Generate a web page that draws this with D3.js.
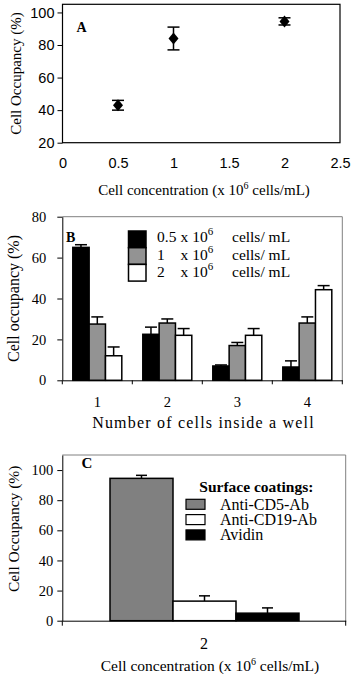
<!DOCTYPE html>
<html>
<head>
<meta charset="utf-8">
<script src="https://d3js.org/d3.v7.min.js"></script>
<style>
  body { margin: 0; background: #fff; }
  svg { display: block; }
</style>
</head>
<body>
<script>
// ---- data ----
// panel A
var aConc = [0.5, 1, 2];
var aOcc = [43, 84, 94.5];
var aErr = [3, 7, 2.2];
var aXTicks = [0, 0.5, 1, 1.5, 2, 2.5];
var aYTicks = [20, 40, 60, 80, 100];

// panel B
var bCats = ["1", "2", "3", "4"];
var bSeries = ["0.5", "1", "2"];
var bVals05 = [65, 22.5, 7, 6.5];
var bErr05 = [1.3, 3.5, 0.5, 3];
var bVals1 = [27.5, 28, 17, 28];
var bErr1 = [3.5, 2, 1.5, 3];
var bVals2 = [12, 22, 22, 44.3];
var bErr2 = [4.3, 3.3, 3.3, 2];
var bYTicks = [0, 20, 40, 60, 80];

// panel C
var cCat = ["2"];
var cSeries = ["Anti-CD5-Ab", "Anti-CD19-Ab", "Avidin"];
var cVals = [94.5, 13, 5];
var cErr = [2, 3.5, 3.5];
var cYTicks = [0, 20, 40, 60, 80, 100];

var serif = "Liberation Serif, serif";
var sans = "Liberation Sans, sans-serif";

var svg = d3.select("body").append("svg")
  .attr("width", 354)
  .attr("height", 674);

// ================= panel A =================
var xA = d3.scaleLinear().domain([0, 2.5]).range([62.5, 340]);
var yA = d3.scaleLinear().domain([20, 105]).range([142.7, 4.3]);

svg.append("rect")
  .attr("x", xA(0)).attr("y", yA(105))
  .attr("width", xA(2.5) - xA(0)).attr("height", yA(20) - yA(105))
  .attr("fill", "none").attr("stroke", "#000").attr("stroke-width", 1.2);

var gAy = svg.append("g")
  .attr("transform", "translate(" + xA(0) + ",0)")
  .call(d3.axisLeft(yA).tickValues(aYTicks).tickSize(5).tickPadding(3));
gAy.select(".domain").remove();

var gAx = svg.append("g")
  .attr("transform", "translate(0," + yA(20) + ")")
  .call(d3.axisBottom(xA).tickValues(aXTicks).tickSize(0).tickPadding(15)
    .tickFormat(function(d) { return d; }));
gAx.select(".domain").remove();

[gAy, gAx].forEach(function(g) {
  g.attr("font-family", null).attr("font-size", null);
  g.selectAll("text").attr("font-family", sans).attr("font-size", "14.5px").attr("fill", "#000");
  g.selectAll("line").attr("stroke", "#000");
});

// error bars + diamonds
var gA = svg.append("g");
aConc.forEach(function(c, i) {
  var cx = xA(c), cy = yA(aOcc[i]);
  var top = yA(aOcc[i] + aErr[i]), bot = yA(aOcc[i] - aErr[i]);
  gA.append("line").attr("x1", cx).attr("x2", cx).attr("y1", top).attr("y2", bot)
    .attr("stroke", "#000").attr("stroke-width", 1.5);
  [top, bot].forEach(function(yy) {
    gA.append("line").attr("x1", cx - 6).attr("x2", cx + 6).attr("y1", yy).attr("y2", yy)
      .attr("stroke", "#000").attr("stroke-width", 1.5);
  });
  gA.append("path")
    .attr("d", "M" + cx + "," + (cy - 6) + "L" + (cx + 5) + "," + cy + "L" + cx + "," + (cy + 6) + "L" + (cx - 5) + "," + cy + "Z")
    .attr("fill", "#000");
});

svg.append("text").attr("x", 76.5).attr("y", 31.5)
  .attr("font-family", serif).attr("font-weight", "bold").attr("font-size", "14px")
  .text("A");

svg.append("text")
  .attr("transform", "translate(21," + ((yA(20) + yA(105)) / 2) + ") rotate(-90)")
  .attr("text-anchor", "middle")
  .attr("font-family", serif).attr("font-size", "15px")
  .text("Cell Occupancy (%)");

var tA = svg.append("text").attr("x", 204).attr("y", 195)
  .attr("text-anchor", "middle")
  .attr("font-family", serif).attr("font-size", "15px");
tA.append("tspan").text("Cell concentration (x 10");
tA.append("tspan").attr("dy", -6).attr("font-size", "10px").text("6");
tA.append("tspan").attr("dy", 6).text(" cells/mL)");

// ================= panel B =================
var xB = d3.scaleBand().domain(bCats).range([62.3, 342.3]);
var xB1 = d3.scaleBand().domain(bSeries).range([10.5, xB.bandwidth() - 10.5]);
var yB = d3.scaleLinear().domain([0, 80]).range([380.3, 216.7]);
var bFill = { "0.5": "#000", "1": "#939393", "2": "#fff" };
var bVals = { "0.5": bVals05, "1": bVals1, "2": bVals2 };
var bErrs = { "0.5": bErr05, "1": bErr1, "2": bErr2 };

// frame top + right
svg.append("path")
  .attr("d", "M" + xB.range()[0] + "," + yB(80) + "H" + xB.range()[1] + "V" + yB(0))
  .attr("fill", "none").attr("stroke", "#808080").attr("stroke-width", 1);

var barsB = [];
bSeries.forEach(function(s) {
  bCats.forEach(function(c, i) {
    barsB.push({ s: s, c: c, v: bVals[s][i], e: bErrs[s][i] });
  });
});

var gB = svg.append("g");
gB.selectAll("line.err").data(barsB).enter().append("line")
  .attr("class", "err")
  .attr("x1", function(d) { return xB(d.c) + xB1(d.s) + xB1.bandwidth() / 2; })
  .attr("x2", function(d) { return xB(d.c) + xB1(d.s) + xB1.bandwidth() / 2; })
  .attr("y1", function(d) { return yB(d.v); })
  .attr("y2", function(d) { return yB(d.v + d.e); })
  .attr("stroke", "#000").attr("stroke-width", 1.5);
gB.selectAll("line.cap").data(barsB).enter().append("line")
  .attr("class", "cap")
  .attr("x1", function(d) { return xB(d.c) + xB1(d.s) + xB1.bandwidth() / 2 - 6; })
  .attr("x2", function(d) { return xB(d.c) + xB1(d.s) + xB1.bandwidth() / 2 + 6; })
  .attr("y1", function(d) { return yB(d.v + d.e); })
  .attr("y2", function(d) { return yB(d.v + d.e); })
  .attr("stroke", "#000").attr("stroke-width", 1.5);
gB.selectAll("rect").data(barsB).enter().append("rect")
  .attr("x", function(d) { return xB(d.c) + xB1(d.s); })
  .attr("y", function(d) { return yB(d.v); })
  .attr("width", xB1.bandwidth())
  .attr("height", function(d) { return yB(0) - yB(d.v); })
  .attr("fill", function(d) { return bFill[d.s]; })
  .attr("stroke", "#000").attr("stroke-width", 1.5);

var gBy = svg.append("g")
  .attr("transform", "translate(" + xB.range()[0] + ",0)")
  .call(d3.axisLeft(yB).tickValues(bYTicks).tickSize(5).tickPadding(11).tickSizeOuter(0));
var gBx = svg.append("g")
  .attr("transform", "translate(0," + yB(0) + ")")
  .call(d3.axisBottom(xB).tickSize(0).tickPadding(16).tickSizeOuter(0));
// boundary ticks on category axis
gBx.selectAll("line.bnd").data(d3.range(bCats.length + 1)).enter().append("line")
  .attr("class", "bnd")
  .attr("x1", function(i) { return xB.range()[0] + i * xB.step(); })
  .attr("x2", function(i) { return xB.range()[0] + i * xB.step(); })
  .attr("y1", 0).attr("y2", 4)
  .attr("stroke", "#000");
[gBy, gBx].forEach(function(g) {
  g.attr("font-family", null).attr("font-size", null);
  g.selectAll("text").attr("font-family", serif).attr("font-size", "14.5px").attr("fill", "#000");
  g.selectAll("line, path").attr("stroke", "#000");
});

svg.append("text").attr("x", 66).attr("y", 241.5)
  .attr("font-family", serif).attr("font-weight", "bold").attr("font-size", "14px")
  .text("B");

svg.append("text")
  .attr("transform", "translate(19," + ((yB(0) + yB(80)) / 2) + ") rotate(-90)")
  .attr("text-anchor", "middle")
  .attr("font-family", serif).attr("font-size", "16px")
  .text("Cell occupancy (%)");

svg.append("text").attr("x", 203.5).attr("y", 428)
  .attr("text-anchor", "middle")
  .attr("font-family", serif).attr("font-size", "16px")
  .attr("letter-spacing", "1.2px")
  .text("Number of cells inside a well");

// legend B
var legB = svg.append("g");
bSeries.forEach(function(s, i) {
  legB.append("rect")
    .attr("x", 128.5).attr("y", 231 + i * 16.7)
    .attr("width", 17.5).attr("height", 16.7)
    .attr("fill", bFill[s]).attr("stroke", "#000").attr("stroke-width", 1.5);
  var by = 242 + i * 17.7;
  legB.append("text").attr("x", 157).attr("y", by)
    .attr("font-family", serif).attr("font-size", "15.5px").text(s);
  var t = legB.append("text").attr("x", 180.5).attr("y", by)
    .attr("font-family", serif).attr("font-size", "15.5px");
  t.append("tspan").text("x 10");
  t.append("tspan").attr("dy", -7).attr("font-size", "11px").text("6");
  legB.append("text").attr("x", 232).attr("y", by)
    .attr("font-family", serif).attr("font-size", "15.5px").text("cells/ mL");
});

// ================= panel C =================
var xC = d3.scaleBand().domain(cCat).range([62.3, 345.7]);
var xC1 = d3.scaleBand().domain(cSeries).range([47.7, xC.bandwidth() - 46.7]);
var yC = d3.scaleLinear().domain([0, 110]).range([620.7, 455]);
var cFill = { "Anti-CD5-Ab": "#808080", "Anti-CD19-Ab": "#fff", "Avidin": "#000" };

svg.append("path")
  .attr("d", "M" + xC.range()[0] + "," + yC(110) + "H" + xC.range()[1] + "V" + yC(0))
  .attr("fill", "none").attr("stroke", "#808080").attr("stroke-width", 1);

var barsC = cSeries.map(function(s, i) { return { s: s, c: cCat[0], v: cVals[i], e: cErr[i] }; });
var gC = svg.append("g");
gC.selectAll("line.err").data(barsC).enter().append("line")
  .attr("class", "err")
  .attr("x1", function(d) { return xC(d.c) + xC1(d.s) + xC1.bandwidth() / 2; })
  .attr("x2", function(d) { return xC(d.c) + xC1(d.s) + xC1.bandwidth() / 2; })
  .attr("y1", function(d) { return yC(d.v); })
  .attr("y2", function(d) { return yC(d.v + d.e); })
  .attr("stroke", "#000").attr("stroke-width", 1.5);
gC.selectAll("line.cap").data(barsC).enter().append("line")
  .attr("class", "cap")
  .attr("x1", function(d) { return xC(d.c) + xC1(d.s) + xC1.bandwidth() / 2 - 5.5; })
  .attr("x2", function(d) { return xC(d.c) + xC1(d.s) + xC1.bandwidth() / 2 + 5.5; })
  .attr("y1", function(d) { return yC(d.v + d.e); })
  .attr("y2", function(d) { return yC(d.v + d.e); })
  .attr("stroke", "#000").attr("stroke-width", 1.5);
gC.selectAll("rect").data(barsC).enter().append("rect")
  .attr("x", function(d) { return xC(d.c) + xC1(d.s); })
  .attr("y", function(d) { return yC(d.v); })
  .attr("width", xC1.bandwidth())
  .attr("height", function(d) { return yC(0) - yC(d.v); })
  .attr("fill", function(d) { return cFill[d.s]; })
  .attr("stroke", "#000").attr("stroke-width", 1.5);

var gCy = svg.append("g")
  .attr("transform", "translate(" + xC.range()[0] + ",0)")
  .call(d3.axisLeft(yC).tickValues(cYTicks).tickSize(5).tickPadding(4).tickSizeOuter(0));
var gCx = svg.append("g")
  .attr("transform", "translate(0," + yC(0) + ")")
  .call(d3.axisBottom(xC).tickSize(0).tickPadding(17).tickSizeOuter(0));
gCx.selectAll("line.bnd").data(d3.range(cCat.length + 1)).enter().append("line")
  .attr("class", "bnd")
  .attr("x1", function(i) { return xC.range()[0] + i * xC.step(); })
  .attr("x2", function(i) { return xC.range()[0] + i * xC.step(); })
  .attr("y1", 0).attr("y2", 5)
  .attr("stroke", "#000");
[gCy, gCx].forEach(function(g) {
  g.attr("font-family", null).attr("font-size", null);
  g.selectAll("text").attr("font-family", serif).attr("font-size", "14.5px").attr("fill", "#000");
  g.selectAll("line, path").attr("stroke", "#000");
});
gCx.selectAll(".tick text").attr("font-size", "16px");

svg.append("text").attr("x", 81.5).attr("y", 467.5)
  .attr("font-family", serif).attr("font-weight", "bold").attr("font-size", "15px")
  .text("C");

svg.append("text")
  .attr("transform", "translate(19," + ((yC(0) + yC(110)) / 2 - 9) + ") rotate(-90)")
  .attr("text-anchor", "middle")
  .attr("font-family", serif).attr("font-size", "15.5px")
  .text("Cell Occupancy (%)");

var tC = svg.append("text").attr("x", 210).attr("y", 671)
  .attr("text-anchor", "middle")
  .attr("font-family", serif).attr("font-size", "15.5px");
tC.append("tspan").text("Cell concentration (x 10");
tC.append("tspan").attr("dy", -6).attr("font-size", "10px").text("6");
tC.append("tspan").attr("dy", 6).text(" cells/mL)");

// legend C
var legC = svg.append("g");
legC.append("text").attr("x", 199.3).attr("y", 491.5)
  .attr("font-family", serif).attr("font-weight", "bold").attr("font-size", "15.5px")
  .text("Surface coatings:");
cSeries.forEach(function(s, i) {
  legC.append("rect")
    .attr("x", 186).attr("y", 499.3 + i * 15.3)
    .attr("width", 19).attr("height", 10)
    .attr("fill", cFill[s]).attr("stroke", "#000").attr("stroke-width", 1.2);
  legC.append("text").attr("x", 220).attr("y", 509.5 + i * 15.3)
    .attr("font-family", serif).attr("font-size", "16px").text(s);
});
</script>
</body>
</html>
